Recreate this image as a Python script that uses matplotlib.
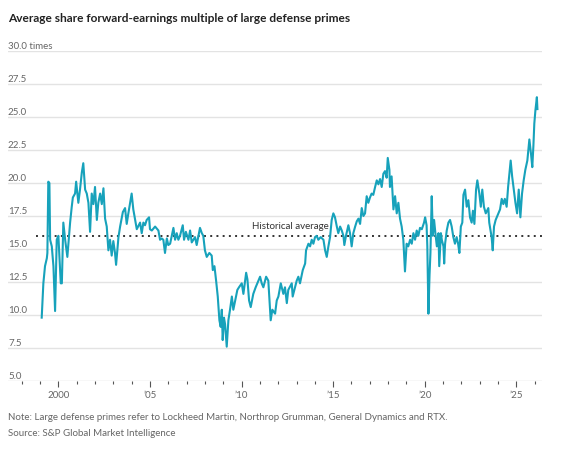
import matplotlib
matplotlib.use("Agg")
import matplotlib.pyplot as plt
import matplotlib.transforms as mtransforms
from matplotlib.ticker import FixedLocator, MultipleLocator

# ---------------- data ----------------
years = [
    1999.09, 1999.18, 1999.27, 1999.37, 1999.40, 1999.45, 1999.51, 1999.55, 1999.64, 1999.73,
    1999.82, 1999.91, 2000.00, 2000.13, 2000.19, 2000.27, 2000.37, 2000.49, 2000.64, 2000.73,
    2000.79, 2000.91, 2000.97, 2001.09, 2001.18, 2001.28, 2001.36, 2001.46, 2001.55, 2001.64,
    2001.73, 2001.82, 2001.91, 2002.00, 2002.10, 2002.18, 2002.28, 2002.37, 2002.46, 2002.55,
    2002.64, 2002.73, 2002.82, 2002.91, 2003.00, 2003.09, 2003.15, 2003.28, 2003.37, 2003.52,
    2003.64, 2003.73, 2003.82, 2004.00, 2004.09, 2004.19, 2004.28, 2004.46, 2004.55, 2004.64,
    2004.73, 2004.82, 2004.95, 2005.00, 2005.10, 2005.28, 2005.46, 2005.55, 2005.64, 2005.73,
    2005.82, 2005.92, 2006.00, 2006.10, 2006.28, 2006.37, 2006.46, 2006.55, 2006.64, 2006.79,
    2006.86, 2006.96, 2007.10, 2007.19, 2007.28, 2007.46, 2007.55, 2007.73, 2007.83, 2007.91,
    2008.00, 2008.10, 2008.24, 2008.37, 2008.43, 2008.52, 2008.61, 2008.70, 2008.79, 2008.86,
    2008.92, 2008.97, 2009.04, 2009.10, 2009.19, 2009.28, 2009.37, 2009.47, 2009.55, 2009.64,
    2009.77, 2009.86, 2010.01, 2010.10, 2010.25, 2010.32, 2010.41, 2010.50, 2010.64, 2010.77,
    2010.92, 2011.01, 2011.10, 2011.19, 2011.34, 2011.46, 2011.59, 2011.68, 2011.83, 2011.92,
    2012.01, 2012.14, 2012.28, 2012.37, 2012.47, 2012.55, 2012.74, 2012.79, 2012.92, 2013.01,
    2013.10, 2013.19, 2013.34, 2013.47, 2013.52, 2013.65, 2013.74, 2013.83, 2013.92, 2014.01,
    2014.10, 2014.19, 2014.32, 2014.47, 2014.56, 2014.65, 2014.74, 2014.83, 2014.92, 2015.01,
    2015.10, 2015.20, 2015.28, 2015.38, 2015.47, 2015.56, 2015.61, 2015.70, 2015.83, 2015.92,
    2016.01, 2016.10, 2016.20, 2016.29, 2016.38, 2016.47, 2016.56, 2016.65, 2016.74, 2016.83,
    2016.92, 2017.01, 2017.10, 2017.19, 2017.29, 2017.38, 2017.47, 2017.56, 2017.65, 2017.74,
    2017.83, 2017.92, 2017.98, 2018.07, 2018.10, 2018.19, 2018.29, 2018.38, 2018.47, 2018.56,
    2018.65, 2018.74, 2018.83, 2018.92, 2019.01, 2019.10, 2019.20, 2019.29, 2019.38, 2019.47,
    2019.56, 2019.65, 2019.74, 2019.84, 2019.96, 2020.02, 2020.10, 2020.14, 2020.20, 2020.26,
    2020.31, 2020.38, 2020.44, 2020.51, 2020.58, 2020.66, 2020.75, 2020.79, 2020.88, 2020.93,
    2021.02, 2021.06, 2021.11, 2021.20, 2021.29, 2021.38, 2021.47, 2021.56, 2021.65, 2021.74,
    2021.82, 2021.89, 2021.97, 2022.05, 2022.11, 2022.20, 2022.29, 2022.38, 2022.47, 2022.56,
    2022.63, 2022.71, 2022.80, 2022.87, 2022.98, 2023.06, 2023.14, 2023.23, 2023.33, 2023.47,
    2023.52, 2023.65, 2023.71, 2023.78, 2023.87, 2024.02, 2024.11, 2024.20, 2024.29, 2024.37,
    2024.47, 2024.55, 2024.69, 2024.77, 2024.86, 2024.95, 2025.04, 2025.13, 2025.22, 2025.31,
    2025.40, 2025.49, 2025.60, 2025.71, 2025.80, 2025.87, 2025.93, 2025.98, 2026.04, 2026.12,
    2026.15,
]
multiple = [
    9.8, 12.4, 13.7, 14.3, 14.7, 20.1, 20.0, 15.7, 15.2, 13.7,
    10.3, 15.7, 16.0, 12.4, 12.4, 17.0, 15.7, 14.4, 17.0, 18.2,
    18.9, 19.2, 20.1, 18.5, 19.5, 20.8, 21.5, 19.5, 19.2, 18.5,
    16.3, 19.2, 18.4, 19.7, 17.2, 18.5, 19.2, 18.4, 19.6, 17.3,
    16.7, 14.9, 15.7, 14.5, 15.6, 14.7, 13.8, 15.9, 16.7, 17.8,
    18.1, 16.9, 17.7, 19.2, 18.0, 17.2, 16.5, 17.0, 16.2, 17.0,
    16.8, 17.2, 17.4, 16.5, 16.4, 16.7, 16.4, 15.7, 15.8, 15.7,
    14.7, 15.8, 15.3, 15.4, 16.6, 15.7, 16.2, 15.7, 16.0, 16.8,
    15.7, 16.3, 15.7, 16.4, 15.5, 15.9, 15.3, 16.6, 16.2, 16.0,
    14.9, 14.4, 14.7, 14.5, 13.4, 13.7, 12.6, 11.4, 9.6, 9.1,
    10.4, 8.1, 9.8, 9.3, 7.6, 9.6, 10.4, 11.4, 10.4, 11.0,
    11.9, 12.1, 12.4, 11.6, 13.2, 12.7, 11.1, 10.6, 11.6, 12.1,
    12.6, 12.9, 12.4, 12.1, 12.9, 12.6, 9.6, 10.4, 10.1, 11.1,
    11.4, 12.4, 11.6, 12.1, 10.9, 11.9, 12.4, 11.4, 12.1, 12.6,
    12.9, 12.4, 13.4, 13.9, 14.9, 15.4, 15.2, 15.7, 15.4, 15.9,
    16.0, 15.7, 15.9, 15.7, 14.9, 14.4, 15.2, 15.9, 17.2, 17.7,
    17.4, 16.7, 16.2, 16.7, 16.4, 16.0, 15.3, 16.0, 16.8, 16.2,
    15.2, 16.2, 16.7, 17.1, 17.3, 16.9, 18.1, 17.5, 17.7, 19.0,
    18.5, 18.9, 19.2, 19.1, 19.7, 20.2, 19.9, 20.3, 19.7, 20.7,
    20.9, 20.4, 21.9, 21.0, 19.7, 20.5, 18.0, 19.0, 17.7, 18.5,
    17.3, 16.7, 15.7, 13.3, 15.4, 15.2, 15.7, 15.4, 16.2, 15.7,
    16.4, 16.0, 16.6, 16.5, 17.0, 17.4, 16.8, 15.2, 10.1, 13.0,
    14.7, 19.0, 16.0, 17.2, 16.2, 15.2, 16.2, 13.7, 16.2, 15.7,
    15.2, 13.9, 15.4, 16.4, 17.0, 17.2, 16.7, 15.9, 15.4, 15.9,
    15.4, 14.7, 16.7, 17.0, 19.1, 19.5, 18.2, 18.7, 17.4, 17.0,
    17.9, 16.9, 19.5, 20.2, 19.2, 18.2, 19.5, 18.2, 17.7, 18.1,
    17.0, 15.9, 14.9, 16.7, 17.2, 17.7, 18.0, 18.8, 18.4, 18.8,
    18.2, 19.7, 21.7, 20.5, 19.5, 18.5, 17.7, 19.5, 17.4, 19.2,
    20.2, 21.0, 21.7, 23.3, 22.2, 21.2, 22.8, 24.5, 25.5, 26.5,
    25.6,
]
historical_average = 16.0
y_ticks = [5.0, 7.5, 10.0, 12.5, 15.0, 17.5, 20.0, 22.5, 25.0, 27.5, 30.0]
y_labels = ["5.0", "7.5", "10.0", "12.5", "15.0", "17.5", "20.0", "22.5", "25.0", "27.5", "30.0 times"]
x_ticks = [2000, 2005, 2010, 2015, 2020, 2025]
x_labels = ["2000", "\u201905", "\u201910", "\u201915", "\u201920", "\u201925"]

title = "Average share forward-earnings multiple of large defense primes"
note = "Note: Large defense primes refer to Lockheed Martin, Northrop Grumman, General Dynamics and RTX."
source = "Source: S&P Global Market Intelligence"

# ---------------- style ----------------
FONT = ["Lato", "DejaVu Sans"]
plt.rcParams["font.family"] = FONT
LINE = "#17a2bb"
GRID = "#e3e3e3"
LABEL = "#666666"

W, H = 587, 457
fig = plt.figure(figsize=(W / 100, H / 100), dpi=100)
ax = fig.add_axes([8 / W, 1 - 381 / H, (542 - 8) / W, (381 - 51) / H])

ax.set_xlim(1997.25, 2026.40)
ax.set_ylim(5, 30)

for s in ax.spines.values():
    s.set_visible(False)

# gridlines
for v in y_ticks:
    ax.axhline(v, color=GRID if v > 5 else "#d8d8d8", lw=1.0, zorder=0)

# y labels above gridlines
trans = mtransforms.blended_transform_factory(ax.transAxes, ax.transData)
for v, lab in zip(y_ticks, y_labels):
    ax.text(0, v, lab, transform=trans, ha="left", va="bottom", fontsize=7.0,
            color=LABEL, clip_on=False)
ax.set_yticks([])

# x ticks
ax.xaxis.set_major_locator(FixedLocator(x_ticks))
ax.set_xticklabels(x_labels)
ax.xaxis.set_minor_locator(MultipleLocator(1))
ax.tick_params(axis="x", which="major", length=4, width=0.8, color="#555555",
               labelsize=7.0, labelcolor=LABEL, pad=3)
ax.tick_params(axis="x", which="minor", length=2, width=0.8, color="#555555")

# historical average
ax.plot([1998.78, 2026.40], [historical_average, historical_average],
        color="#333333", lw=1.4, linestyle=(0, (1, 2.2)), zorder=2, clip_on=False)
ax.text(2012.65, historical_average + 0.35, "Historical average", ha="center",
        va="bottom", fontsize=7.0, color="#333333", zorder=2)

# series
ax.plot(years, multiple, color=LINE, lw=1.5, zorder=3, solid_joinstyle="round")

# titles / notes
fig.text(8 / W, 1 - 19 / H, title, ha="left", va="center", fontsize=8.6,
         fontweight="bold", color="#222222")
fig.text(8 / W, 1 - 418 / H, note, ha="left", va="center", fontsize=7.0, color=LABEL)
fig.text(8 / W, 1 - 433 / H, source, ha="left", va="center", fontsize=7.0, color=LABEL)

fig.savefig("out.png", dpi=100)
